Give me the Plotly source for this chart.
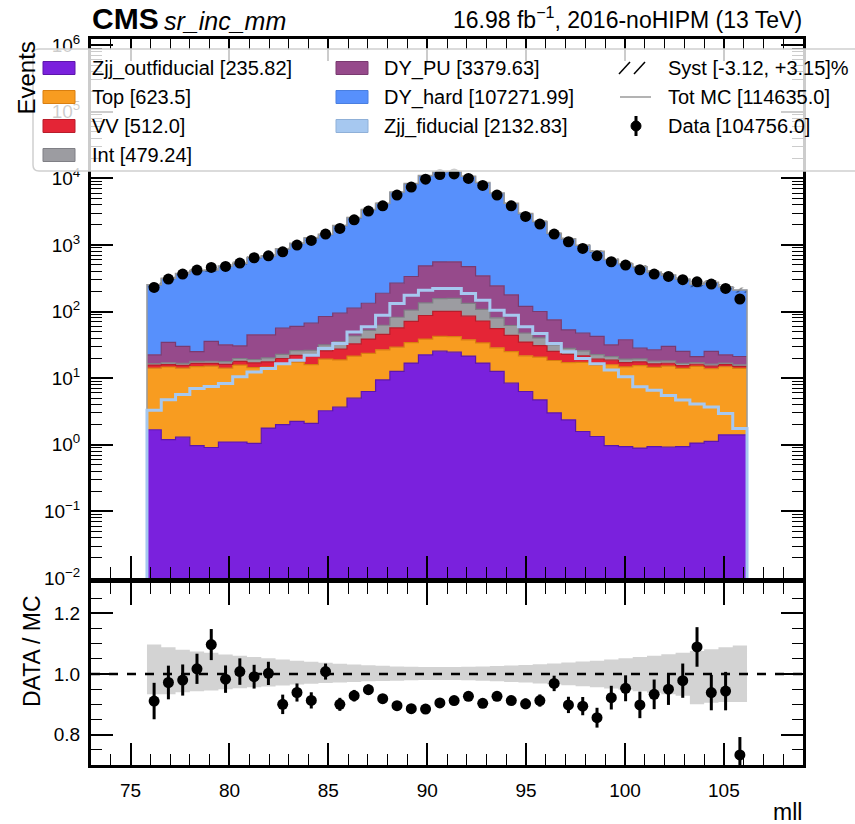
import numpy as np
import plotly.graph_objects as go

# ---- binning of the dilepton invariant mass ----
mll_lo, mll_hi, n_bins = 75.83, 106.17, 42
edges = np.linspace(mll_lo, mll_hi, n_bins + 1)
centers = 0.5 * (edges[:-1] + edges[1:])

# ---- per-bin yields (events) ----
zjj_outfiducial = [1.68, 1.19, 1.30, 0.97, 0.91, 1.10, 1.10, 1.05, 1.78, 2.00, 2.24, 2.10, 3.24, 3.67,
                   5.00, 6.30, 9.40, 12.6, 16.8, 22.4, 25.4, 24.5, 21.4, 16.8, 12.6, 8.40, 6.30, 4.70,
                   3.00, 2.37, 1.58, 1.33, 0.97, 0.94, 0.89, 0.94, 0.92, 0.94, 1.06, 1.12, 1.41, 1.41]
top = [12.4, 13.5, 12.8, 13.9, 14.2, 13.0, 14.6, 13.3, 12.9, 14.1, 15.2, 13.8, 16.0, 15.1,
       16.4, 17.2, 17.2, 16.5, 17.3, 16.1, 16.8, 17.5, 16.2, 17.0, 15.9, 16.6, 15.3, 16.0,
       15.4, 14.7, 15.6, 14.3, 14.9, 13.8, 14.5, 13.6, 14.2, 13.1, 13.9, 12.7, 13.4, 12.6]
vv = [1.6, 1.3, 1.4, 1.8, 1.5, 2.0, 2.2, 2.6, 2.9, 3.6, 4.5, 5.4, 6.4, 8.6,
      11.3, 15.0, 18.6, 27.5, 36.8, 48.6, 58.0, 58.7, 47.6, 38.2, 26.8, 18.9, 13.2, 10.0,
      6.8, 5.6, 4.4, 3.6, 2.7, 2.4, 2.1, 1.8, 1.6, 1.4, 1.2, 1.3, 1.1, 1.0]
interference = [0.9, 1.0, 1.1, 1.2, 1.3, 1.6, 1.8, 2.1, 2.5, 3.1, 3.9, 4.8, 5.9, 7.8,
                10.2, 13.6, 17.0, 25.4, 33.8, 47.5, 55.6, 56.3, 46.84, 35.8, 25.1, 17.7, 12.4, 9.4,
                6.4, 5.2, 4.1, 3.3, 2.5, 2.2, 1.9, 1.6, 1.4, 1.2, 1.0, 1.1, 0.9, 0.8]
dy_pu = [5.83, 17.3, 13.3, 7.2, 17.6, 13.9, 10.8, 25.6, 24.6, 33.4, 33.8, 40.7, 52.6, 59.2,
         69.1, 80.9, 125.8, 184.0, 230.3, 348.4, 399.2, 399.1, 341.0, 235.2, 162.6, 116.4, 71.8, 59.9,
         43.4, 25.1, 21.6, 19.7, 10.5, 18.3, 8.8, 8.7, 11.8, 8.5, 3.9, 8.9, 5.6, 5.3]
dy_hard = [226.8, 276.8, 336.8, 378.9, 375.4, 443.3, 487.8, 589.7, 626.0, 802.9, 979.4, 1188.3, 1328.6, 1833.6,
           2403.1, 3194.7, 3927.6, 5835.3, 7798.2, 10275.7, 11786.2, 11935.5, 10056.2, 8141.3, 5677.4, 3965.3,
           2785.9, 2100.0, 1390.4, 1162.7, 922.9, 742.7, 560.4, 473.4, 435.4, 358.0, 318.3, 276.9, 231.0,
           246.0, 209.9, 187.2]
zjj_fiducial = [3.3, 4.75, 5.7, 7.0, 7.5, 8.3, 10.5, 12.4, 13.9, 16.5, 18.5, 22.0, 27.8, 33.1,
                49.3, 59.0, 88.0, 132.0, 176.0, 208.6, 221.5, 220.9, 185.7, 147.8, 104.7, 88.0, 59.0, 46.6,
                33.1, 24.8, 19.7, 16.5, 13.2, 10.5, 7.4, 6.6, 5.5, 4.7, 4.1, 3.7, 2.95, 1.76]
data = [230, 307, 365, 418, 459, 475, 533, 641, 686, 788, 993, 1166, 1452, 1765,
        2381, 3212, 3861, 5582, 7358, 9701, 11363, 11600, 9927, 7799, 5582, 3861, 2672, 2050,
        1452, 1114, 885, 686, 558, 497, 423, 365, 336, 300, 279, 258, 222, 154]

# relative systematic uncertainty on the total prediction
syst_up = [0.097, 0.088, 0.080, 0.074, 0.070, 0.064, 0.060, 0.056, 0.052, 0.048, 0.044, 0.040, 0.037, 0.034,
           0.031, 0.029, 0.027, 0.025, 0.024, 0.023, 0.023, 0.023, 0.024, 0.025, 0.026, 0.028, 0.030, 0.032,
           0.035, 0.038, 0.041, 0.044, 0.048, 0.052, 0.056, 0.060, 0.065, 0.070, 0.076, 0.082, 0.088, 0.094]
syst_dn = [0.067, 0.067, 0.060, 0.057, 0.054, 0.050, 0.047, 0.044, 0.041, 0.038, 0.035, 0.032, 0.030, 0.028,
           0.026, 0.024, 0.023, 0.022, 0.021, 0.020, 0.020, 0.020, 0.021, 0.022, 0.024, 0.026, 0.028, 0.031,
           0.034, 0.037, 0.040, 0.044, 0.048, 0.052, 0.057, 0.062, 0.067, 0.072, 0.100, 0.095, 0.092, 0.092]

# stacked backgrounds, bottom to top: (name, values, fill, edge)
stack = [
    ("Zjj_outfiducial", zjj_outfiducial, "#7a21dd", "#5d16ab"),
    ("Top", top, "#f89c20", "#d97f10"),
    ("VV", vv, "#e42536", "#b81d2b"),
    ("Int", interference, "#9c9ca1", "#7f7f85"),
    ("DY_PU", dy_pu, "#964a8b", "#7a3a70"),
    ("DY_hard", dy_hard, "#5790fc", "#4a7fe0"),
]
fid_color = "#a6c8f0"

mc_total = np.sum([np.array(v, float) for _, v, _, _ in stack], axis=0) + np.array(zjj_fiducial)
data_arr = np.array(data, float)
ratio = data_arr / mc_total
ratio_err = np.sqrt(data_arr) / mc_total
up = np.array(syst_up)
dn = np.array(syst_dn)

FLOOR = 1e-4
FONT = "Liberation Sans"


def step(vals):
    """hv-step coordinates covering the full bin range."""
    vals = list(vals)
    return list(edges), vals + [vals[-1]]


def closed_step(vals, floor):
    """hv-step outline that drops to the floor at both ends."""
    vals = list(vals)
    x = [edges[0]] + list(edges[:-1]) + [edges[-1], edges[-1]]
    y = [floor] + vals + [vals[-1], floor]
    return x, y


fig = go.Figure()

# base line for the first filled layer
bx, by = step([FLOOR] * n_bins)
fig.add_trace(go.Scatter(x=bx, y=by, mode="lines", line=dict(width=0, shape="hv"),
                         hoverinfo="skip", showlegend=False, xaxis="x", yaxis="y"))
cum = np.zeros(n_bins)
for name, vals, fill, edge in stack:
    cum = cum + np.array(vals, float)
    sx, sy = step(cum)
    fig.add_trace(go.Scatter(x=sx, y=sy, mode="lines", name=name,
                             line=dict(width=1.2, color=edge, shape="hv"),
                             fill="tonexty", fillcolor=fill, showlegend=False,
                             xaxis="x", yaxis="y"))

# systematic band on the total prediction (hatched)
lx, ly = step(mc_total * (1 - dn))
ux, uy = step(mc_total * (1 + up))
fig.add_trace(go.Scatter(x=lx, y=ly, mode="lines", line=dict(width=0, shape="hv"),
                         showlegend=False, hoverinfo="skip", xaxis="x", yaxis="y"))
fig.add_trace(go.Scatter(x=ux, y=uy, mode="lines", line=dict(width=0, shape="hv"),
                         fill="tonexty", fillcolor="rgba(0,0,0,0)",
                         fillpattern=dict(shape="/", fgcolor="black", bgcolor="rgba(0,0,0,0)",
                                          size=6, solidity=0.25),
                         showlegend=False, hoverinfo="skip", xaxis="x", yaxis="y"))

# total MC outline
tx, ty = closed_step(mc_total, FLOOR)
fig.add_trace(go.Scatter(x=tx, y=ty, mode="lines", line=dict(width=1.5, color="#9a9a9a", shape="hv"),
                         showlegend=False, xaxis="x", yaxis="y"))

# fiducial signal as an outline
fx, fy = closed_step(zjj_fiducial, FLOOR)
fig.add_trace(go.Scatter(x=fx, y=fy, mode="lines", line=dict(width=3, color=fid_color, shape="hv"),
                         showlegend=False, xaxis="x", yaxis="y"))

# data
fig.add_trace(go.Scatter(x=centers, y=data_arr, mode="markers",
                         marker=dict(color="black", size=11),
                         error_y=dict(type="data", array=np.sqrt(data_arr), color="black",
                                      thickness=2.5, width=0),
                         showlegend=False, xaxis="x", yaxis="y"))

# ---- ratio panel ----
rlx, rly = step(1 - dn)
rux, ruy = step(1 + up)
fig.add_trace(go.Scatter(x=rlx, y=rly, mode="lines", line=dict(width=0, shape="hv"),
                         showlegend=False, hoverinfo="skip", xaxis="x2", yaxis="y2"))
fig.add_trace(go.Scatter(x=rux, y=ruy, mode="lines", line=dict(width=0, shape="hv"),
                         fill="tonexty", fillcolor="#d3d3d3",
                         showlegend=False, hoverinfo="skip", xaxis="x2", yaxis="y2"))
fig.add_trace(go.Scatter(x=centers, y=ratio, mode="markers",
                         marker=dict(color="black", size=11),
                         error_y=dict(type="data", array=ratio_err, color="black",
                                      thickness=3, width=0),
                         showlegend=False, xaxis="x2", yaxis="y2"))

# ---- axes ----
W, H = 855, 824
ML, MR, MT, MB = 91, 52, 39, 59
PW, PH = W - ML - MR, H - MT - MB
main_bottom = 578
ratio_top = 583


def px_x(x):
    return (x - ML) / PW


def px_y(y):
    return (H - MB - y) / PH


tick_common = dict(ticks="inside", tickcolor="black", tickwidth=1.6, showline=True,
                   linecolor="black", linewidth=3, mirror="allticks", showgrid=False,
                   zeroline=False, tickfont=dict(family=FONT, size=19, color="black"))

x_major = [75, 80, 85, 90, 95, 100, 105]
x_minor = list(range(73, 110))
minor_x = dict(tickmode="array", tickvals=x_minor, ticks="inside", ticklen=11,
               tickwidth=1.4, tickcolor="black", showgrid=False)

log_major = [1e-2, 1e-1, 1, 1e1, 1e2, 1e3, 1e4, 1e5, 1e6]
log_text = ["10<sup>\u22122</sup>", "10<sup>\u22121</sup>", "10<sup>0</sup>", "10<sup>1</sup>",
            "10<sup>2</sup>", "10<sup>3</sup>", "10<sup>4</sup>", "10<sup>5</sup>", "10<sup>6</sup>"]
log_minor = [k * 10.0 ** p for p in range(-2, 7) for k in range(2, 10)]

fig.update_layout(
    width=W, height=H,
    margin=dict(l=ML, r=MR, t=MT, b=MB),
    paper_bgcolor="white", plot_bgcolor="white",
    showlegend=False,
    font=dict(family=FONT, color="black"),
    xaxis=dict(domain=[0, 1], anchor="y", range=[73, 109], tickmode="array", tickvals=x_major,
               ticklen=22, showticklabels=False, minor=minor_x, **tick_common),
    yaxis=dict(domain=[px_y(main_bottom), 1], anchor="x", type="log", range=[-2, 6.09],
               tickmode="array", tickvals=log_major, ticktext=log_text, ticklen=22,
               ticklabelstandoff=4,
               minor=dict(tickmode="array", tickvals=log_minor, ticks="inside", ticklen=11,
                          tickwidth=1.4, tickcolor="black", showgrid=False),
               **tick_common),
    xaxis2=dict(domain=[0, 1], anchor="y2", range=[73, 109], tickmode="array", tickvals=x_major,
                ticktext=[str(v) for v in x_major], ticklen=22, ticklabelstandoff=6,
                minor=minor_x, **tick_common),
    yaxis2=dict(domain=[0, px_y(ratio_top)], anchor="x2", range=[0.7, 1.3],
                tickmode="array", tickvals=[0.8, 1.0, 1.2], ticktext=["0.8", "1.0", "1.2"],
                ticklen=22, ticklabelstandoff=4,
                minor=dict(tickmode="linear", tick0=0.0, dtick=0.05, ticks="inside", ticklen=11,
                           tickwidth=1.4, tickcolor="black", showgrid=False),
                **tick_common),
)

shapes = []
# unity line in the ratio panel
shapes.append(dict(type="line", xref="x2 domain", yref="y2", x0=0, x1=1, y0=1, y1=1,
                   line=dict(color="black", width=2.5, dash="dash"), layer="above"))

# legend frame
lx0, lx1, ly0, ly1, r = 33, 875, 49, 171, 6
path = (f"M {px_x(lx0 + r)},{px_y(ly0)} L {px_x(lx1)},{px_y(ly0)} L {px_x(lx1)},{px_y(ly1)} "
        f"L {px_x(lx0 + r)},{px_y(ly1)} Q {px_x(lx0)},{px_y(ly1)} {px_x(lx0)},{px_y(ly1 - r)} "
        f"L {px_x(lx0)},{px_y(ly0 + r)} Q {px_x(lx0)},{px_y(ly0)} {px_x(lx0 + r)},{px_y(ly0)} Z")
shapes.append(dict(type="path", xref="paper", yref="paper", path=path,
                   fillcolor="rgba(255,255,255,0.8)", line=dict(color="#cfcfcf", width=1.5),
                   layer="above"))

rows = [68, 97, 126, 155]
col1 = [("Zjj_outfiducial [235.82]", stack[0][2], stack[0][3]),
        ("Top [623.5]", stack[1][2], stack[1][3]),
        ("VV [512.0]", stack[2][2], stack[2][3]),
        ("Int [479.24]", stack[3][2], stack[3][3])]
col2 = [("DY_PU [3379.63]", stack[4][2], stack[4][3]),
        ("DY_hard [107271.99]", stack[5][2], stack[5][3]),
        ("Zjj_fiducial [2132.83]", fid_color, "#8fb0d8")]

annotations = []


def legend_text(x, y, text):
    annotations.append(dict(xref="paper", yref="paper", x=px_x(x), y=px_y(y), text=text,
                            showarrow=False, xanchor="left", yanchor="middle",
                            font=dict(family=FONT, size=20, color="black")))


for (label, fill, edge), y in zip(col1, rows):
    shapes.append(dict(type="rect", xref="paper", yref="paper", x0=px_x(43), x1=px_x(75),
                       y0=px_y(y - 6.5), y1=px_y(y + 6.5), fillcolor=fill,
                       line=dict(color=edge, width=1), layer="above"))
    legend_text(90, y, label)
for (label, fill, edge), y in zip(col2, rows):
    shapes.append(dict(type="rect", xref="paper", yref="paper", x0=px_x(336), x1=px_x(368),
                       y0=px_y(y - 6.5), y1=px_y(y + 6.5), fillcolor=fill,
                       line=dict(color=edge, width=1), layer="above"))
    legend_text(382, y, label)

# Syst hatch symbol
for xs in (619, 634):
    shapes.append(dict(type="line", xref="paper", yref="paper", x0=px_x(xs), x1=px_x(xs + 11),
                       y0=px_y(74), y1=px_y(62), line=dict(color="black", width=1.5), layer="above"))
legend_text(666, rows[0], "Syst [-3.12, +3.15]%")
# Tot MC line symbol
shapes.append(dict(type="line", xref="paper", yref="paper", x0=px_x(620), x1=px_x(651),
                   y0=px_y(rows[1]), y1=px_y(rows[1]), line=dict(color="#9a9a9a", width=1.5),
                   layer="above"))
legend_text(666, rows[1], "Tot MC [114635.0]")
# Data symbol
shapes.append(dict(type="line", xref="paper", yref="paper", x0=px_x(636), x1=px_x(636),
                   y0=px_y(rows[2] - 10), y1=px_y(rows[2] + 10), line=dict(color="black", width=3),
                   layer="above"))
shapes.append(dict(type="circle", xref="paper", yref="paper", x0=px_x(631), x1=px_x(641),
                   y0=px_y(rows[2] - 5), y1=px_y(rows[2] + 5), fillcolor="black",
                   line=dict(color="black", width=1), layer="above"))
legend_text(666, rows[2], "Data [104756.0]")

# headers and axis titles
annotations += [
    dict(xref="paper", yref="paper", x=px_x(90), y=px_y(37), text="<b>CMS</b>", showarrow=False,
         xanchor="left", yanchor="bottom", font=dict(family=FONT, size=30, color="black")),
    dict(xref="paper", yref="paper", x=px_x(162), y=px_y(37), text="<i>sr_inc_mm</i>", showarrow=False,
         xanchor="left", yanchor="bottom", font=dict(family=FONT, size=25, color="black")),
    dict(xref="paper", yref="paper", x=px_x(804), y=px_y(35),
         text="16.98 fb<sup>\u22121</sup>, 2016-noHIPM (13 TeV)", showarrow=False,
         xanchor="right", yanchor="bottom", font=dict(family=FONT, size=23, color="black")),
    dict(xref="paper", yref="paper", x=px_x(26), y=px_y(40), text="Events", showarrow=False,
         textangle=-90, xanchor="center", yanchor="top", font=dict(family=FONT, size=24, color="black")),
    dict(xref="paper", yref="paper", x=px_x(32), y=px_y(651), text="DATA / MC", showarrow=False,
         textangle=-90, xanchor="center", yanchor="middle", font=dict(family=FONT, size=23, color="black")),
    dict(xref="paper", yref="paper", x=px_x(804), y=px_y(812), text="mll", showarrow=False,
         xanchor="right", yanchor="middle", font=dict(family=FONT, size=23, color="black")),
]

fig.update_layout(shapes=shapes, annotations=annotations)
fig.write_html("out.html")
